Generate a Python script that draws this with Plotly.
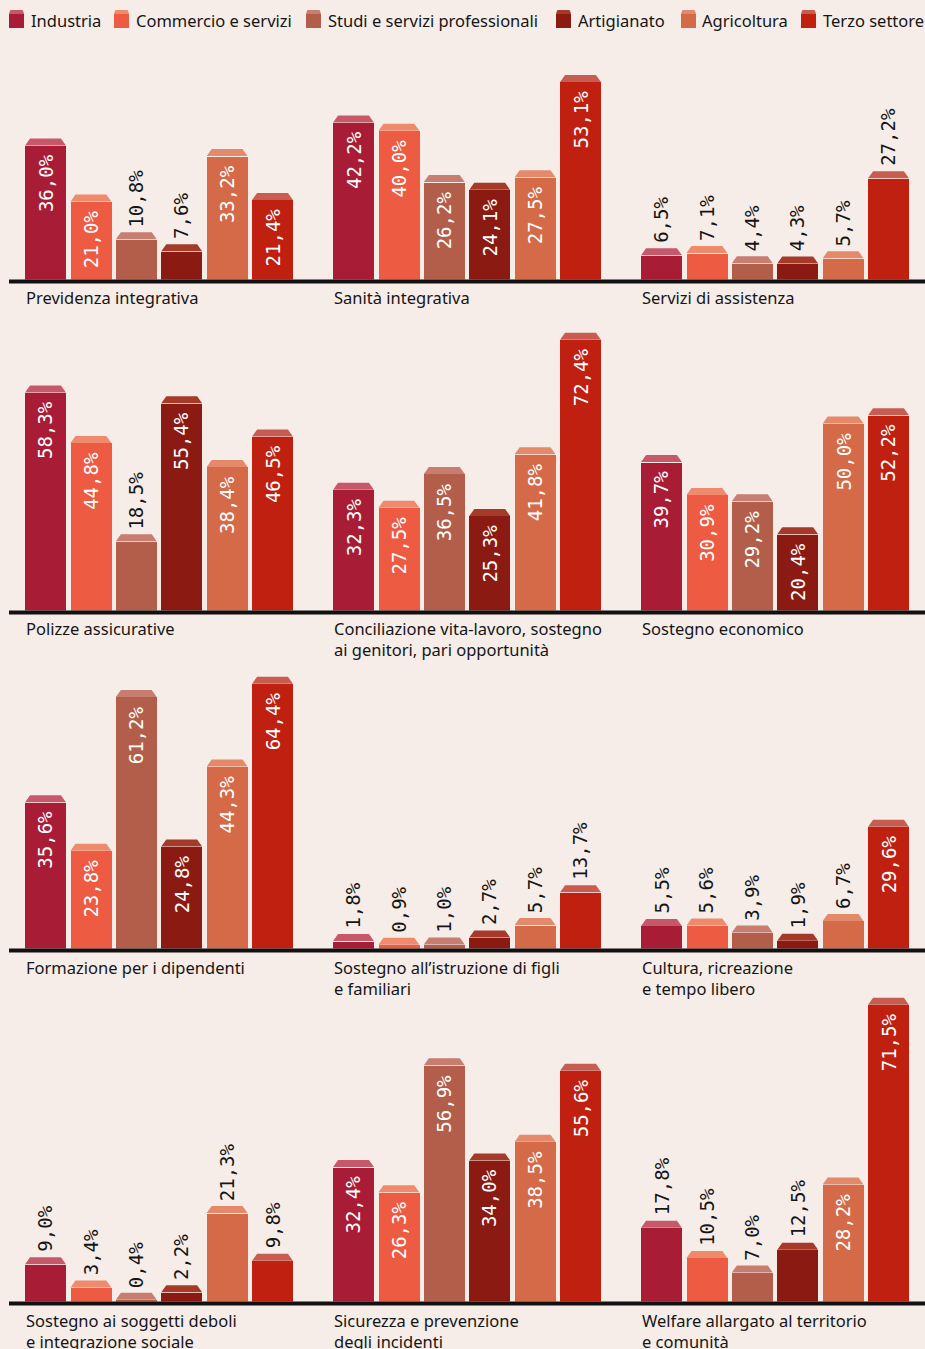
import plotly.graph_objects as go

W, H = 925, 1349

# ---------------- data ----------------
categories = ["Industria", "Commercio e servizi", "Studi e servizi professionali",
              "Artigianato", "Agricoltura", "Terzo settore"]

panel_titles = [
    "Previdenza integrativa",
    "Sanità integrativa",
    "Servizi di assistenza",
    "Polizze assicurative",
    "Conciliazione vita-lavoro, sostegno<br>ai genitori, pari opportunità",
    "Sostegno economico",
    "Formazione per i dipendenti",
    "Sostegno all’istruzione di figli<br>e familiari",
    "Cultura, ricreazione<br>e tempo libero",
    "Sostegno ai soggetti deboli<br>e integrazione sociale",
    "Sicurezza e prevenzione<br>degli incidenti",
    "Welfare allargato al territorio<br>e comunità",
]

previdenza = [36.0, 21.0, 10.8, 7.6, 33.2, 21.4]
sanita = [42.2, 40.0, 26.2, 24.1, 27.5, 53.1]
assistenza = [6.5, 7.1, 4.4, 4.3, 5.7, 27.2]
polizze = [58.3, 44.8, 18.5, 55.4, 38.4, 46.5]
conciliazione = [32.3, 27.5, 36.5, 25.3, 41.8, 72.4]
economico = [39.7, 30.9, 29.2, 20.4, 50.0, 52.2]
formazione = [35.6, 23.8, 61.2, 24.8, 44.3, 64.4]
istruzione = [1.8, 0.9, 1.0, 2.7, 5.7, 13.7]
cultura = [5.5, 5.6, 3.9, 1.9, 6.7, 29.6]
deboli = [9.0, 3.4, 0.4, 2.2, 21.3, 9.8]
sicurezza = [32.4, 26.3, 56.9, 34.0, 38.5, 55.6]
welfare = [17.8, 10.5, 7.0, 12.5, 28.2, 71.5]

panel_values = [previdenza, sanita, assistenza, polizze, conciliazione, economico,
                formazione, istruzione, cultura, deboli, sicurezza, welfare]

# ---------------- style ----------------
BG = "#f6ede9"
body_colors = ["#a91c36", "#ec5b42", "#b35e4b", "#8b1a12", "#d46a47", "#c0200f"]
cap_colors = ["#c75869", "#f08a6c", "#c77d70", "#a53a29", "#e4896a", "#c95c50"]
TEXT = "#151515"
TITLE_FONT = "Noto Sans"
LABEL_FONT = "DejaVu Sans Mono"

col_left = [22.8, 330.8, 638.8]
col_w = 272.4
row_zero = [279.5, 610.5, 948.5, 1301.5]
row_scale = [3.72, 3.74, 4.11, 4.15]
row_span = [260, 290, 300, 320]
inside_threshold = 20
outside_override = {(2, 5), (9, 4)}   # labels drawn above the bar
BAR_W = 0.9
CAP_H = 7
CAP_INSET = 5


def fx(px):
    return px / W


def fy(py):
    return 1 - py / H


def fmt(v):
    return f"{v:.1f}".replace(".", ",") + "%"


fig = go.Figure()
shapes = []
annotations = []
layout_axes = {}

step_px = col_w / 6
hw = BAR_W * step_px / 2

for k, (title, vals) in enumerate(zip(panel_titles, panel_values)):
    r, c = divmod(k, 3)
    n = k + 1
    xa = "x" if n == 1 else f"x{n}"
    ya = "y" if n == 1 else f"y{n}"
    xkey = "xaxis" if n == 1 else f"xaxis{n}"
    ykey = "yaxis" if n == 1 else f"yaxis{n}"
    z = row_zero[r]
    span = row_span[r]
    layout_axes[xkey] = dict(domain=[fx(col_left[c]), fx(col_left[c] + col_w)],
                             range=[-0.5, 5.5], visible=False, fixedrange=True,
                             anchor=ya)
    layout_axes[ykey] = dict(domain=[fy(z), fy(z - span)],
                             range=[0, span / row_scale[r]], visible=False,
                             fixedrange=True, anchor=xa)
    xs = list(range(len(categories)))
    fig.add_trace(go.Bar(x=xs, y=vals, width=BAR_W, marker=dict(color=body_colors, line=dict(width=0)),
                         xaxis=xa, yaxis=ya, cliponaxis=False, showlegend=False,
                         hoverinfo="skip"))
    for i, v in enumerate(vals):
        shapes.append(dict(type="path", xref=xa, yref=ya, xsizemode="pixel", ysizemode="pixel",
                           xanchor=i, yanchor=v,
                           path=f"M{-hw},0 L{hw},0 L{hw - CAP_INSET},{CAP_H} L{-hw + CAP_INSET},{CAP_H} Z",
                           fillcolor=cap_colors[i], line=dict(width=0), layer="above"))
        inside = v >= inside_threshold and (k, i) not in outside_override
        if inside:
            annotations.append(dict(x=i, y=v, xref=xa, yref=ya, text=fmt(v), showarrow=False,
                                    textangle=-90, xanchor="center", yanchor="top", yshift=-7,
                                    font=dict(family=LABEL_FONT, size=19, color="#ffffff")))
        else:
            annotations.append(dict(x=i, y=v, xref=xa, yref=ya, text=fmt(v), showarrow=False,
                                    textangle=-90, xanchor="center", yanchor="bottom",
                                    yshift=CAP_H + 3,
                                    font=dict(family=LABEL_FONT, size=19, color=TEXT)))
    # title
    annotations.append(dict(x=fx(col_left[c] + 1), y=fy(z + 5), xref="paper", yref="paper",
                            text=title, showarrow=False, xanchor="left", yanchor="top",
                            align="left",
                            font=dict(family=TITLE_FONT, size=16.5, color=TEXT)))

# baselines
for r in range(4):
    yc = row_zero[r] + 2
    shapes.append(dict(type="line", xref="paper", yref="paper", x0=fx(9), x1=fx(925),
                       y0=fy(yc), y1=fy(yc), line=dict(color="#111111", width=4), layer="above"))

# legend
legend_sq_x = [9, 114, 306, 556, 681, 801]
legend_txt_x = [28.5, 134, 326, 576, 700, 821]
for i, name in enumerate(categories):
    x0 = legend_sq_x[i]
    shapes.append(dict(type="rect", xref="paper", yref="paper", x0=fx(x0), x1=fx(x0 + 15),
                       y0=fy(28), y1=fy(14), fillcolor=body_colors[i], line=dict(width=0)))
    shapes.append(dict(type="path", xref="paper", yref="paper",
                       path=(f"M{fx(x0)},{fy(14)} L{fx(x0 + 15)},{fy(14)} L{fx(x0 + 14)},{fy(10.5)} "
                             f"L{fx(x0 + 13)},{fy(10)} L{fx(x0 + 2)},{fy(10)} L{fx(x0 + 1)},{fy(10.5)} Z"),
                       fillcolor=cap_colors[i], line=dict(width=0)))
    annotations.append(dict(x=fx(legend_txt_x[i]), y=fy(21), xref="paper", yref="paper",
                            text=name, showarrow=False, xanchor="left", yanchor="middle",
                            font=dict(family=TITLE_FONT, size=16.5, color=TEXT)))

fig.update_layout(width=W, height=H, margin=dict(l=0, r=0, t=0, b=0),
                  paper_bgcolor=BG, plot_bgcolor=BG, shapes=shapes, annotations=annotations,
                  bargap=0, **layout_axes)

fig.write_html("out.html", config={"displayModeBar": False},
               post_script="document.body.style.margin='0';document.body.style.overflow='hidden';"
                           "document.body.style.background='" + BG + "';")
